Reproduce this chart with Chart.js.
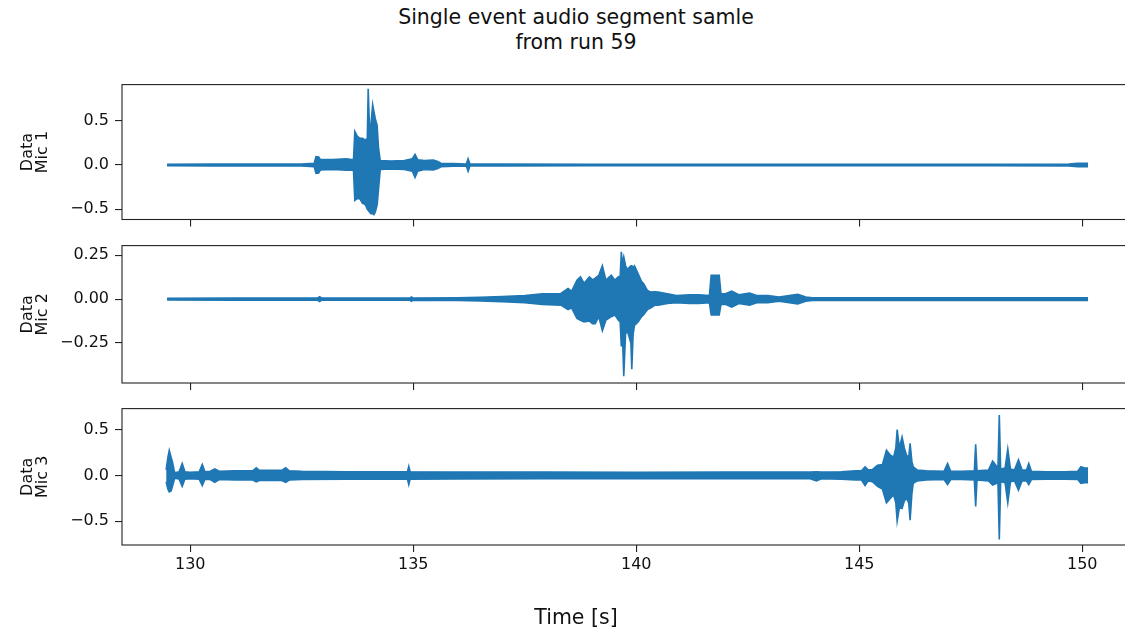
<!DOCTYPE html>
<html>
<head>
<meta charset="utf-8">
<script src="https://cdn.jsdelivr.net/npm/chart.js@4.4.1/dist/chart.umd.min.js"></script>
<style>
  html, body { margin: 0; padding: 0; background: #fff; overflow: hidden; width: 1125px; height: 633px; }
  #fig { position: relative; width: 1152px; height: 633px; font-family: 'DejaVu Sans', sans-serif; color: #111; }
  #fig canvas { position: absolute; left: 0; }
  .sup { position: absolute; left: 0; width: 1152px; text-align: center; font-size: 20.5px; }
</style>
</head>
<body>
<div id="fig">
  <div class="sup" style="top:5px; line-height:25px;">Single event audio segment samle<br>from run 59</div>
  <canvas id="mic1" width="1152" height="170" style="top:69px; width:1152px; height:170px;"></canvas>
  <canvas id="mic2" width="1152" height="173" style="top:230px; width:1152px; height:173px;"></canvas>
  <canvas id="mic3" width="1152" height="240" style="top:393px; width:1152px; height:240px;"></canvas>
  <div class="sup" style="top:604px; line-height:26px;">Time [s]</div>
</div>
<script>
// Amplitude envelopes (upper / lower) of each microphone signal, sampled at the listed times [s]
const TIME_MIC1 = [129.48, 130.5, 131.5, 132.5, 132.78, 132.82, 132.88, 132.92, 133.2, 133.5, 133.66, 133.69, 133.74, 133.8, 133.86, 133.93, 133.97, 133.99, 134.02, 134.05, 134.09, 134.12, 134.15, 134.19, 134.22, 134.26, 134.5, 134.8, 134.98, 135.04, 135.1, 135.25, 135.45, 135.55, 135.62, 135.9, 136.19, 136.23, 136.27, 137.0, 139.0, 142.0, 145.0, 148.0, 149.7, 149.9, 150.13];
const HI_MIC1 = [0.008, 0.01, 0.012, 0.012, 0.02, 0.095, 0.09, 0.06, 0.06, 0.07, 0.06, 0.38, 0.33, 0.3, 0.3, 0.28, 0.3, 0.86, 0.4, 0.45, 0.68, 0.6, 0.52, 0.45, 0.2, 0.05, 0.045, 0.05, 0.07, 0.12, 0.06, 0.05, 0.055, 0.04, 0.02, 0.015, 0.012, 0.07, 0.012, 0.01, 0.008, 0.008, 0.008, 0.008, 0.012, 0.018, 0.018];
const LO_MIC1 = [-0.008, -0.01, -0.012, -0.012, -0.02, -0.095, -0.09, -0.055, -0.05, -0.06, -0.06, -0.4, -0.38, -0.38, -0.43, -0.45, -0.5, -0.51, -0.53, -0.55, -0.55, -0.56, -0.53, -0.45, -0.28, -0.05, -0.045, -0.05, -0.07, -0.14, -0.07, -0.05, -0.055, -0.04, -0.02, -0.015, -0.012, -0.07, -0.012, -0.01, -0.008, -0.008, -0.008, -0.008, -0.012, -0.018, -0.018];

const TIME_MIC2 = [129.48, 131.0, 132.85, 132.9, 132.95, 134.0, 134.92, 134.96, 135.0, 136.0, 136.5, 137.0, 137.5, 137.9, 138.31, 138.47, 138.55, 138.67, 138.75, 138.83, 138.95, 139.02, 139.08, 139.16, 139.24, 139.32, 139.44, 139.52, 139.6, 139.64, 139.665, 139.69, 139.72, 139.76, 139.8, 139.88, 139.9, 139.93, 139.96, 140.04, 140.12, 140.16, 140.25, 140.33, 140.41, 140.49, 140.7, 140.9, 141.2, 141.4, 141.64, 141.68, 141.86, 141.9, 142.0, 142.14, 142.3, 142.54, 142.7, 142.95, 143.2, 143.62, 143.8, 143.95, 145.0, 147.0, 149.0, 150.13];
const HI_MIC2 = [0.005, 0.006, 0.006, 0.014, 0.006, 0.006, 0.006, 0.012, 0.006, 0.007, 0.01, 0.015, 0.02, 0.03, 0.032, 0.06, 0.045, 0.108, 0.127, 0.09, 0.127, 0.11, 0.12, 0.136, 0.19, 0.108, 0.136, 0.108, 0.127, 0.13, 0.27, 0.2, 0.24, 0.19, 0.17, 0.19, 0.19, 0.18, 0.19, 0.145, 0.1, 0.09, 0.05, 0.04, 0.042, 0.04, 0.03, 0.02, 0.025, 0.025, 0.02, 0.136, 0.136, 0.03, 0.03, 0.045, 0.025, 0.035, 0.02, 0.02, 0.012, 0.028, 0.012, 0.008, 0.008, 0.008, 0.008, 0.008];
const LO_MIC2 = [-0.005, -0.006, -0.006, -0.014, -0.006, -0.006, -0.006, -0.012, -0.006, -0.007, -0.01, -0.015, -0.02, -0.03, -0.034, -0.06, -0.05, -0.11, -0.12, -0.13, -0.125, -0.14, -0.14, -0.1, -0.18, -0.12, -0.1, -0.09, -0.12, -0.13, -0.27, -0.2, -0.44, -0.2, -0.18, -0.25, -0.4, -0.2, -0.15, -0.13, -0.1, -0.09, -0.06, -0.05, -0.035, -0.034, -0.025, -0.02, -0.025, -0.025, -0.02, -0.09, -0.09, -0.03, -0.03, -0.045, -0.025, -0.035, -0.02, -0.02, -0.012, -0.028, -0.012, -0.008, -0.008, -0.008, -0.008, -0.008];

const TIME_MIC3 = [129.46, 129.5, 129.53, 129.57, 129.6, 129.65, 129.75, 129.82, 129.88, 130.0, 130.2, 130.27, 130.33, 130.45, 130.55, 130.65, 131.0, 131.4, 131.48, 131.55, 131.8, 132.05, 132.14, 132.22, 132.5, 133.5, 134.87, 134.9, 134.93, 136.0, 138.0, 140.0, 142.0, 143.9, 144.04, 144.15, 144.6, 144.92, 145.05, 145.13, 145.2, 145.3, 145.41, 145.52, 145.61, 145.7, 145.77, 145.82, 145.85, 145.9, 145.96, 146.01, 146.06, 146.11, 146.14, 146.18, 146.21, 146.3, 146.5, 146.9, 146.98, 147.05, 147.3, 147.58, 147.61, 147.64, 147.9, 147.99, 148.11, 148.14, 148.17, 148.27, 148.33, 148.39, 148.48, 148.57, 148.65, 148.75, 148.8, 148.86, 149.2, 149.6, 149.9, 149.97, 150.05, 150.13];
const HI_MIC3 = [0.06, 0.2, 0.275, 0.2, 0.15, 0.03, 0.04, 0.13, 0.04, 0.035, 0.04, 0.12, 0.04, 0.045, 0.07, 0.045, 0.05, 0.05, 0.083, 0.055, 0.055, 0.055, 0.083, 0.05, 0.045, 0.04, 0.04, 0.1, 0.04, 0.038, 0.036, 0.035, 0.036, 0.036, 0.04, 0.036, 0.04, 0.05, 0.05, 0.094, 0.06, 0.065, 0.11, 0.12, 0.275, 0.22, 0.2, 0.3, 0.5, 0.3, 0.42, 0.3, 0.22, 0.2, 0.35, 0.15, 0.094, 0.06, 0.05, 0.045, 0.13, 0.045, 0.045, 0.05, 0.34, 0.05, 0.06, 0.156, 0.08, 0.66, 0.07, 0.08, 0.29, 0.07, 0.06, 0.17, 0.06, 0.06, 0.13, 0.045, 0.04, 0.04, 0.045, 0.094, 0.08, 0.08];
const LO_MIC3 = [-0.07, -0.15, -0.18, -0.17, -0.12, -0.03, -0.04, -0.12, -0.04, -0.035, -0.04, -0.11, -0.04, -0.045, -0.075, -0.045, -0.05, -0.05, -0.07, -0.055, -0.055, -0.055, -0.076, -0.05, -0.045, -0.04, -0.04, -0.1, -0.04, -0.038, -0.036, -0.035, -0.036, -0.036, -0.06, -0.036, -0.04, -0.05, -0.05, -0.11, -0.06, -0.07, -0.12, -0.15, -0.3, -0.25, -0.21, -0.3, -0.5, -0.35, -0.36, -0.28, -0.25, -0.3, -0.49, -0.2, -0.087, -0.06, -0.05, -0.045, -0.1, -0.045, -0.045, -0.05, -0.34, -0.05, -0.06, -0.105, -0.08, -0.7, -0.07, -0.08, -0.3, -0.07, -0.06, -0.16, -0.06, -0.06, -0.1, -0.045, -0.04, -0.04, -0.045, -0.087, -0.08, -0.08];

// Axis limits and tick values
const X_RANGE = [128.47, 151.16];
const X_TICKS = [130, 135, 140, 145, 150];
const Y_RANGE_MIC1 = [-0.615, 0.907];
const Y_RANGE_MIC2 = [-0.478, 0.305];
const Y_RANGE_MIC3 = [-0.76, 0.73];
const Y_TICKS_MIC1 = [-0.5, 0, 0.5];
const Y_TICKS_MIC2 = [-0.25, 0, 0.25];
const Y_TICKS_MIC3 = [-0.5, 0, 0.5];

const BLUE = '#1f77b4';
const INK = '#111111';
const SPINE = '#222222';
const FONT = "'DejaVu Sans', sans-serif";

// Draws the full box around each plot area
const frameBox = {
  id: 'frameBox',
  afterDraw(chart) {
    const { ctx, chartArea: a } = chart;
    ctx.save();
    ctx.strokeStyle = SPINE;
    ctx.lineWidth = 1.1;
    ctx.strokeRect(a.left, a.top, a.right - a.left, a.bottom - a.top);
    ctx.restore();
  }
};

function fmt(v, decimals) {
  return Number(v).toFixed(decimals).replace('-', '\u2212');
}

function makePanel(id, times, hi, lo, yRange, yTicks, decimals, micName, showX, xAxisHeight) {
  const upper = times.map((t, i) => ({ x: t, y: hi[i] }));
  const lower = times.map((t, i) => ({ x: t, y: lo[i] }));
  return new Chart(document.getElementById(id), {
    type: 'line',
    data: {
      datasets: [
        { data: upper, borderColor: BLUE, backgroundColor: BLUE, borderWidth: 1.6, pointRadius: 0, tension: 0, fill: '+1' },
        { data: lower, borderColor: BLUE, backgroundColor: BLUE, borderWidth: 1.6, pointRadius: 0, tension: 0, fill: false }
      ]
    },
    options: {
      responsive: false,
      animation: false,
      events: [],
      layout: { padding: { top: 10, right: 18, left: 0, bottom: 0 } },
      plugins: { legend: { display: false }, tooltip: { enabled: false } },
      scales: {
        x: {
          type: 'linear',
          min: X_RANGE[0],
          max: X_RANGE[1],
          afterBuildTicks: ax => { ax.ticks = X_TICKS.map(v => ({ value: v })); },
          afterFit: ax => { ax.height = xAxisHeight; },
          ticks: { display: showX, color: INK, font: { family: FONT, size: 16 }, padding: 3, maxRotation: 0, autoSkip: false, callback: v => String(v) },
          grid: { drawOnChartArea: false, drawTicks: true, tickLength: 7, color: SPINE, lineWidth: 1.1 },
          border: { display: false }
        },
        y: {
          type: 'linear',
          min: yRange[0],
          max: yRange[1],
          afterBuildTicks: ax => { ax.ticks = yTicks.map(v => ({ value: v })); },
          afterFit: ax => { ax.width = 122; },
          ticks: { color: INK, font: { family: FONT, size: 16 }, padding: 6, autoSkip: false, callback: v => fmt(v, decimals) },
          grid: { drawOnChartArea: false, drawTicks: true, tickLength: 7, color: SPINE, lineWidth: 1.1 },
          border: { display: false },
          title: { display: true, text: ['Data', micName], color: INK, font: { family: FONT, size: 16, lineHeight: 0.95 }, padding: { top: 20, bottom: 0 } }
        }
      }
    },
    plugins: [frameBox]
  });
}

makePanel('mic1', TIME_MIC1, HI_MIC1, LO_MIC1, Y_RANGE_MIC1, Y_TICKS_MIC1, 1, 'Mic 1', false, 19.5);
makePanel('mic2', TIME_MIC2, HI_MIC2, LO_MIC2, Y_RANGE_MIC2, Y_TICKS_MIC2, 2, 'Mic 2', false, 20);
makePanel('mic3', TIME_MIC3, HI_MIC3, LO_MIC3, Y_RANGE_MIC3, Y_TICKS_MIC3, 1, 'Mic 3', true, 88);
</script>
</body>
</html>
